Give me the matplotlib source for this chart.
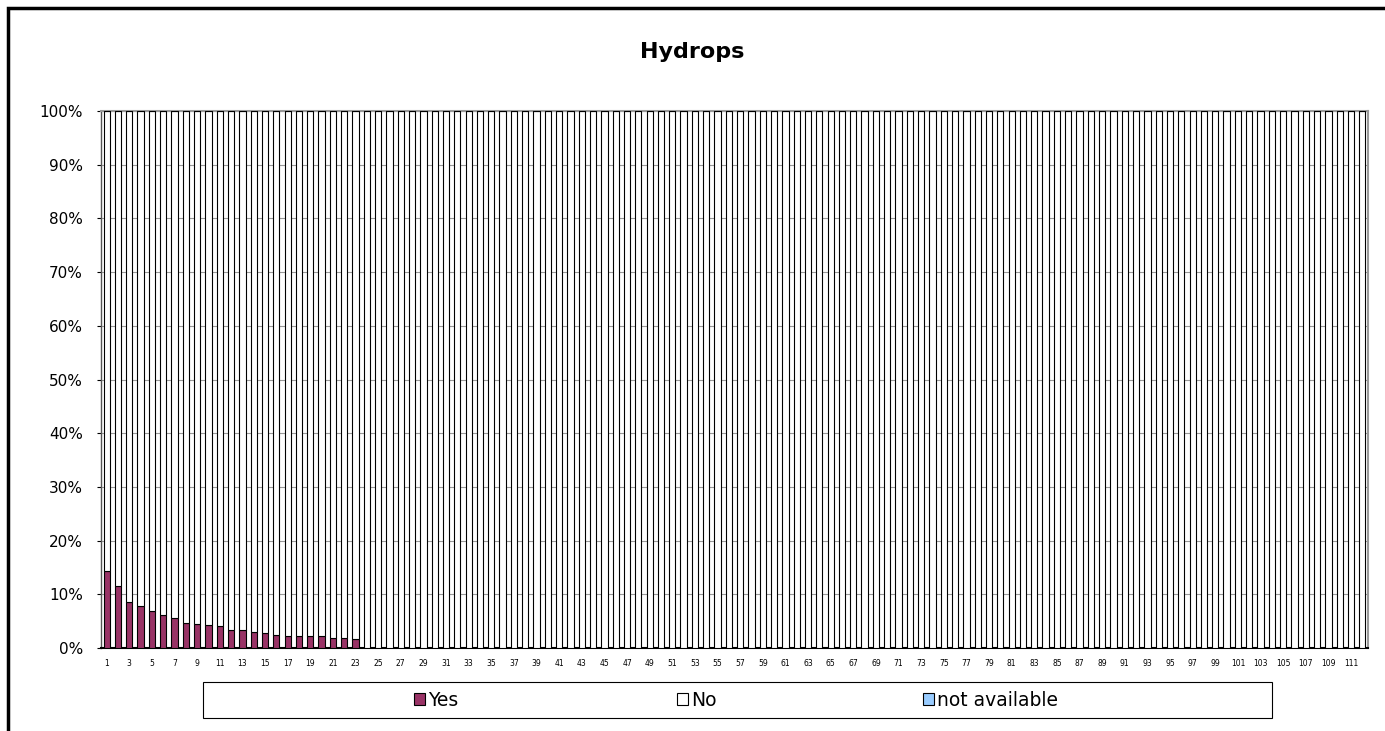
import matplotlib
matplotlib.use("Agg")
import matplotlib.pyplot as plt
from matplotlib.patches import Rectangle, Patch
import numpy as np

title = "Hydrops"
categories = list(range(1, 113))
yes = [14.25, 11.56, 8.56, 7.9, 6.8, 6.2, 5.5, 4.7, 4.5, 4.2, 4.1, 3.4, 3.4,
       2.9, 2.75, 2.45, 2.3, 2.25, 2.25, 2.2, 1.95, 1.95, 1.6] + [0.0] * (112 - 23)
not_available = [0.0] * 112
no = [100.0 - y - n for y, n in zip(yes, not_available)]
series_names = ["Yes", "No", "not available"]
colors = ["#993366", "#ffffff", "#99ccff"]

W, H = 1385, 731
fig = plt.figure(figsize=(W / 100, H / 100), dpi=100)
fig.patches.append(Rectangle((8 / W, -0.1), 1.2, 1 - 8 / H + 0.1, transform=fig.transFigure,
                             fill=False, edgecolor="black", linewidth=2.5))

ax = fig.add_axes([101 / W, 1 - 648 / H, (1368 - 101) / W, (648 - 111) / H])
x = np.arange(len(categories))
w = 0.55
ax.bar(x, yes, w, color=colors[0], edgecolor="black", linewidth=0.8, zorder=3)
ax.bar(x, no, w, bottom=yes, color=colors[1], edgecolor="black", linewidth=0.8, zorder=3)
ax.bar(x, not_available, w, bottom=np.array(yes) + np.array(no), color=colors[2],
       edgecolor="black", linewidth=0.8, zorder=3)

ax.set_xlim(-0.5, len(categories) - 0.5)
ax.set_ylim(0, 100)
ax.set_yticks(range(0, 101, 10))
ax.set_yticklabels([f"{v}%" for v in range(0, 101, 10)], fontsize=11)
ax.set_xticks(x[::2])
ax.set_xticklabels([str(c) for c in categories[::2]], fontsize=5.5)
ax.tick_params(axis="x", length=0, pad=8)
ax.tick_params(axis="y", length=3, width=0.8, pad=10, direction="out")
ax.yaxis.grid(True, color="#999999", linewidth=0.8, zorder=0)
for s in ["top", "right"]:
    ax.spines[s].set_color("#999999")
    ax.spines[s].set_linewidth(1.5)
ax.spines["left"].set_color("#555555")
ax.spines["left"].set_linewidth(1.0)
ax.spines["bottom"].set_color("black")
ax.spines["bottom"].set_linewidth(1.5)

fig.text(0.5, 1 - 52 / H, title, ha="center", va="center", fontsize=16, fontweight="bold")

# legend box
fig.patches.append(Rectangle((203 / W, 1 - 718 / H), (1272 - 203) / W, 36 / H,
                             transform=fig.transFigure, fill=False,
                             edgecolor="black", linewidth=0.8))
handles = [Patch(facecolor=c, edgecolor="black", linewidth=0.8) for c in colors]
legend_x = [414, 677, 923]
for h, name, lx in zip(handles, series_names, legend_x):
    fig.legend([h], [name], loc="center left",
               bbox_to_anchor=(lx / W, 1 - 700 / H),
               fontsize=13.5, frameon=False,
               handlelength=0.6, handleheight=0.6, handletextpad=0.15,
               borderpad=0.0, borderaxespad=0.0)

fig.savefig("out.png", dpi=100)
